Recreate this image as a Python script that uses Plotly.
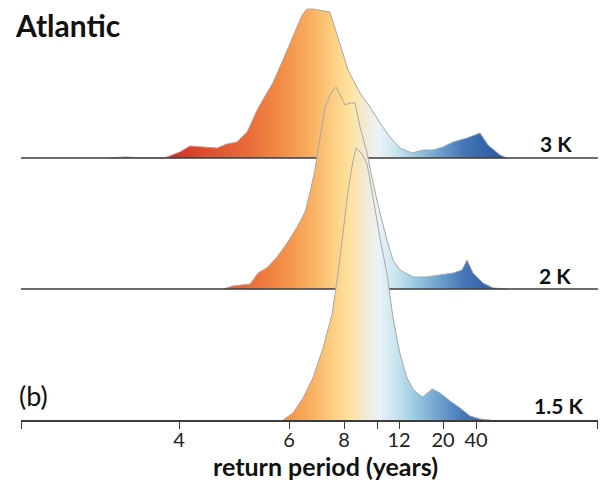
import plotly.graph_objects as go

# ---- data (return period in years, relative density) ----
T_3K = [3.3, 3.44, 3.6, 3.815, 3.86, 4.01, 4.14, 4.52, 4.68, 4.85, 5.04, 5.24, 5.45, 5.59,
        5.84, 6.11, 6.38, 6.53, 6.73, 7.37, 7.81, 8.20, 8.86, 9.50, 10.23, 11.09, 12.11,
        13.61, 15.35, 17.37, 20.0, 23.6, 31.4, 45.5, 62.9, 146.7, 600]
D_3K = [0, 0.008, 0, 0, 0.008, 0.046, 0.092, 0.076, 0.107, 0.122, 0.198, 0.366, 0.496, 0.573,
        0.748, 0.924, 1.092, 1.137, 1.137, 1.115, 0.878, 0.672, 0.496, 0.389, 0.267, 0.160, 0.076,
        0.038, 0.061, 0.061, 0.084, 0.122, 0.153, 0.191, 0.099, 0.023, 0]

T_2K = [4.62, 4.78, 5.10, 5.26, 5.45, 5.69, 5.95, 6.23, 6.47, 6.63, 6.80, 6.98, 7.17, 7.42,
        7.63, 7.81, 8.05, 8.30, 8.57, 8.86, 9.30, 9.71, 10.23, 10.82, 11.38, 12.11, 13.75,
        16.10, 19.13, 23.57, 28.09, 31.43, 36.67, 50.77, 82.5, 600]
D_2K = [0, 0.023, 0.038, 0.122, 0.160, 0.244, 0.351, 0.473, 0.588, 0.733, 0.908, 1.160, 1.389, 1.496,
        1.542, 1.481, 1.405, 1.420, 1.420, 1.237, 1.038, 0.809, 0.580, 0.374, 0.221, 0.145, 0.092,
        0.092, 0.107, 0.122, 0.145, 0.221, 0.122, 0.046, 0.008, 0]

T_15K = [5.84, 6.11, 6.41, 6.73, 7.10, 7.46, 7.72, 7.95, 8.20, 8.46, 8.63, 8.98, 9.30, 9.71,
         10.23, 10.82, 11.38, 12.11, 12.94, 13.75, 14.51, 15.35, 17.14, 19.13, 22.37, 26.94,
         33.85, 45.5, 69.5]
D_15K = [0, 0.053, 0.168, 0.321, 0.550, 0.809, 1.115, 1.420, 1.748, 1.977, 2.076, 2.031, 1.954, 1.695,
         1.389, 1.115, 0.779, 0.504, 0.321, 0.237, 0.198, 0.176, 0.237, 0.206, 0.145, 0.092,
         0.031, 0.008, 0]

LEVELS = ["3 K", "2 K", "1.5 K"]
TICK_T = [4, 6, 8, 10, 12, 20, 40]
TICK_TEXT = ["4", "6", "8", "", "12", "20", "40"]

GRADIENT = [
    [0.00, "#d22b26"], [0.09, "#dc4a2e"], [0.24, "#ea6d3a"], [0.345, "#f39047"],
    [0.42, "#f8ad5e"], [0.50, "#fcd286"], [0.545, "#fde39d"], [0.59, "#f3ead6"],
    [0.63, "#eaf2f4"], [0.68, "#cce6f0"], [0.74, "#9ccbe2"], [0.82, "#6a9fcc"],
    [0.89, "#4476b6"], [1.00, "#2c5aa0"],
]
GRAD_T = (3.9, 150.0)


def xpos(T):
    """Exceedance-probability scale: position = -1/T."""
    return [-1.0 / t for t in T]


X_RANGE = [-0.3697, 0.0674]
FONT = "Lato"
INK = "#3c3c3c"

fig = go.Figure()
ridges = [(T_3K, D_3K), (T_2K, D_2K), (T_15K, D_15K)]
offsets = [2, 1, 0]
for (T, D), off in zip(ridges, offsets):
    fig.add_trace(go.Scatter(
        x=xpos(T), y=[off + d for d in D], mode="lines", fill="toself",
        line=dict(color="#a8a8a8", width=1),
        fillgradient=dict(type="horizontal", colorscale=GRADIENT,
                          start=-1.0 / GRAD_T[0], stop=-1.0 / GRAD_T[1]),
        hoverinfo="skip", showlegend=False))
    if off > 0:
        fig.add_trace(go.Scatter(
            x=X_RANGE, y=[off, off], mode="lines",
            line=dict(color=INK, width=1.6), hoverinfo="skip", showlegend=False))

tickvals = [X_RANGE[0] + 0.0002] + xpos(TICK_T) + [X_RANGE[1] - 0.0002]
ticktext = [""] + TICK_TEXT + [""]

fig.update_xaxes(range=X_RANGE, tickvals=tickvals, ticktext=ticktext,
                 showline=True, linecolor=INK, linewidth=1.6,
                 ticks="outside", ticklen=7, tickwidth=1.4, tickcolor=INK,
                 showgrid=False, zeroline=False, ticklabelstandoff=-6,
                 tickfont=dict(family=FONT, size=20, color="#222"))
fig.update_yaxes(range=[0, 420 / 131], visible=False, showgrid=False, zeroline=False)


def px_x(px):
    return (px - 21) / 577


def px_y(py):
    return (420 - py) / 420


annos = [
    dict(text="<b>Atlantic</b>", x=px_x(13), y=px_y(25), xanchor="left", size=30),
    dict(text="(b)", x=px_x(17), y=px_y(395), xanchor="left", size=27),
    dict(text="<b>" + LEVELS[0] + "</b>", x=px_x(574), y=px_y(143), xanchor="right", size=21),
    dict(text="<b>" + LEVELS[1] + "</b>", x=px_x(573), y=px_y(275), xanchor="right", size=21),
    dict(text="<b>" + LEVELS[2] + "</b>", x=px_x(585), y=px_y(405), xanchor="right", size=21),
    dict(text="<b>return period (years)</b>", x=px_x(325), y=px_y(466), xanchor="center", size=25),
]
for a in annos:
    fig.add_annotation(xref="paper", yref="paper", x=a["x"], y=a["y"], text=a["text"],
                       xanchor=a["xanchor"], yanchor="middle", showarrow=False,
                       font=dict(family=FONT, size=a["size"], color="#111"))

fig.update_layout(width=602, height=486, margin=dict(l=21, r=4, t=0, b=66),
                  paper_bgcolor="white", plot_bgcolor="white")

fig.write_html("out.html", config={"displayModeBar": False},
               post_script="document.body.style.margin='0';document.body.style.overflow='hidden';")
